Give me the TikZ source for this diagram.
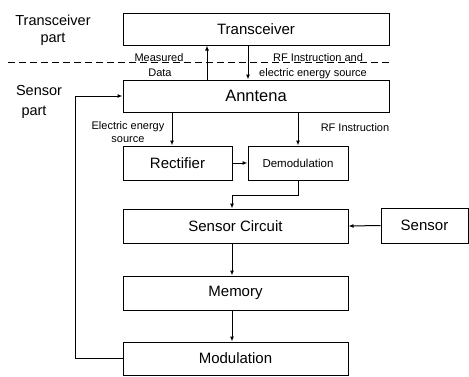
\documentclass[tikz,border=0pt]{standalone}
\usepackage{fontspec}
\setmainfont{Liberation Sans}
\usetikzlibrary{arrows.meta}
\begin{document}
\begin{tikzpicture}[x=1pt,y=-1pt,line width=1pt,
	blk/.style={draw,rectangle,inner sep=0pt,font=\fontsize{15}{17}\selectfont},
	lbl/.style={anchor=base,inner sep=0pt,font=\fontsize{11}{13}\selectfont},
	part/.style={anchor=base,inner sep=0pt,font=\fontsize{14.5}{16}\selectfont},
	arr/.style={-{Latex[length=5pt,width=4pt]}}]
				\useasboundingbox (0,0) rectangle (469,376);
				\node[blk,minimum width=266pt,minimum height=32pt] (trans) at (256,29) {Transceiver};
				\node[blk,minimum width=266pt,minimum height=32pt,font=\fontsize{16.5}{18}\selectfont] (ant) at (256,96) {Anntena};
				\node[blk,minimum width=109pt,minimum height=34pt] (rect) at (177.5,163) {Rectifier};
				\node[blk,minimum width=100pt,minimum height=34pt,font=\fontsize{11.5}{13}\selectfont] (demod) at (298,163) {Demodulation};
				\node[blk,minimum width=225pt,minimum height=34pt] (sc) at (235.5,226) {Sensor Circuit};
				\node[blk,minimum width=87pt,minimum height=35pt] (sensor) at (424.5,225.5) {Sensor};
				\node[blk,minimum width=225pt,minimum height=34pt] (mem) at (235.5,293) {Memory};
				\node[blk,minimum width=225pt,minimum height=33pt] (mod) at (235.5,358.5) {Modulation};
				\draw[dash pattern=on 7pt off 4pt] (8,62) to (390,62);
				\node[part] (tlab1) at (53,25) {Transceiver};
				\node[part] (tlab2) at (53,42) {part};
				\node[part] (slab1) at (39,95) {Sensor};
				\node[part] (slab2) at (34,115) {part};
				\coordinate (up) at (207,0);
				\coordinate (down) at (248,0);
				\coordinate (rcol) at (172,0);
				\coordinate (mid) at (232,0);
				\coordinate (bend) at (232,195);
				\coordinate (fb) at (75,0);
				\draw[arr] (ant.north -| up) to (trans.south -| up);
				\draw[arr] (trans.south -| down) to (ant.north -| down);
				\draw[arr] (ant.south -| rcol) to (rect.north -| rcol);
				\draw[arr] (ant.south -| demod) to (demod.north);
				\draw[arr] (rect.east) to (demod.west);
				\draw[arr] (demod.south) |- (bend) to (sc.north -| bend);
				\draw[arr] (sensor.west) to (sc.east);
				\draw[arr] (sc.south -| mid) to (mem.north -| mid);
				\draw[arr] (mem.south -| mid) to (mod.north -| mid);
				\draw[arr] (mod.west) to (mod.west -| fb) |- (ant.west);
				\node[lbl] (meas) at (159,61) {Measured};
				\node[lbl] (data) at (160,76) {Data};
				\node[lbl] (rfe1) at (318,61) {RF Instruction and};
				\node[lbl] (rfe2) at (313,76) {electric energy source};
				\node[lbl] (ees1) at (128,129) {Electric energy};
				\node[lbl] (ees2) at (128,142) {source};
				\node[lbl] (rfi) at (355,131) {RF Instruction};
\end{tikzpicture}
\end{document}
